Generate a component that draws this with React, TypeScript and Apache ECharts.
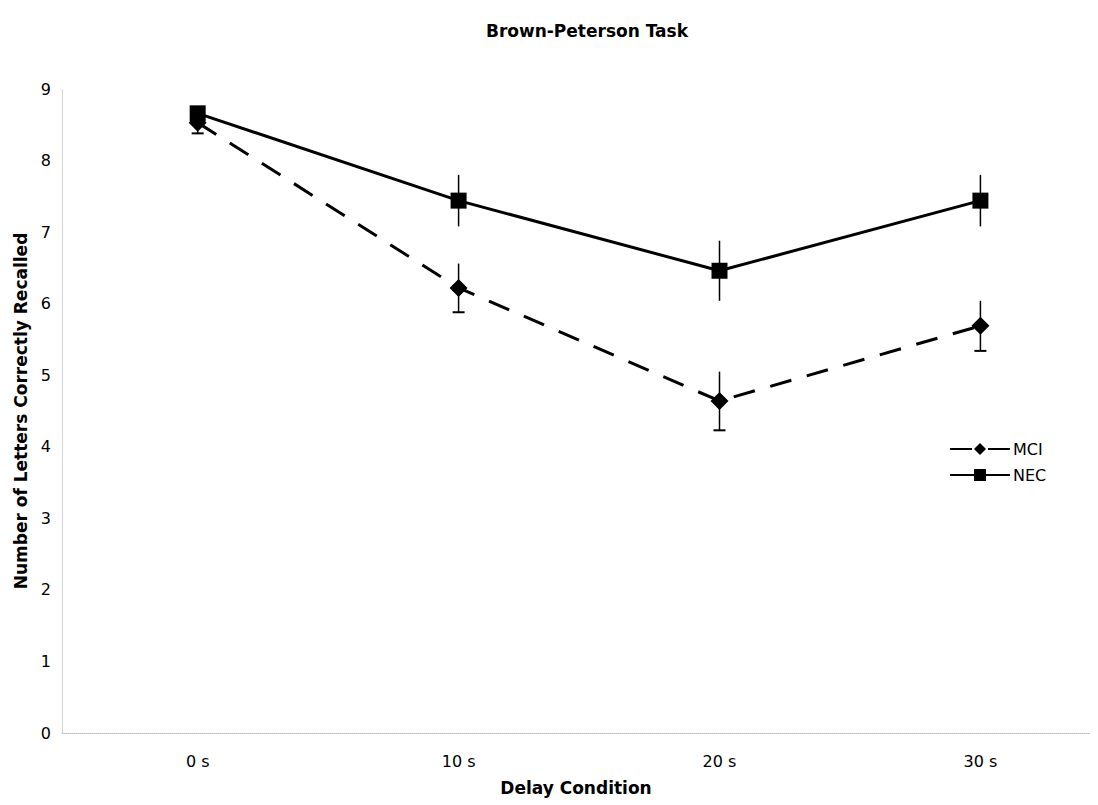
import React, { useEffect, useRef } from "react";
import * as echarts from "echarts";

const categories = ["0 s", "10 s", "20 s", "30 s"];
const mciMeans = [8.53, 6.22, 4.64, 5.69];
const mciErr = [0.15, 0.34, 0.41, 0.35];
const necMeans = [8.66, 7.44, 6.46, 7.44];
const necErr = [0.08, 0.36, 0.42, 0.36];
const yTicks = [0, 1, 2, 3, 4, 5, 6, 7, 8, 9];

const FONT = "DejaVu Sans";

export default function App() {
  const ref = useRef<HTMLDivElement>(null);
  useEffect(() => {
    if (!ref.current) return;
    const chart = echarts.init(ref.current, null, { renderer: "svg" });
    const xs = categories.map((_, i) => i);
    const mciData = xs.map((x, i) => [x, mciMeans[i]]);
    const necData = xs.map((x, i) => [x, necMeans[i]]);
    const mciBars = xs.map((x, i) => [x, mciMeans[i] - mciErr[i], mciMeans[i] + mciErr[i]]);
    const necBars = xs.map((x, i) => [x, necMeans[i] - necErr[i], necMeans[i] + necErr[i]]);

    const errRender = (lowCap: boolean) => (params: any, api: any) => {
      const x = api.value(0);
      const lo = api.coord([x, api.value(1)]);
      const hi = api.coord([x, api.value(2)]);
      const children: any[] = [
        {
          type: "line",
          shape: { x1: lo[0], y1: lo[1], x2: hi[0], y2: hi[1] },
          style: { stroke: "#000", lineWidth: 1.5 },
        },
      ];
      if (lowCap) {
        children.push({
          type: "line",
          shape: { x1: lo[0] - 6, y1: lo[1], x2: lo[0] + 6, y2: lo[1] },
          style: { stroke: "#000", lineWidth: 2 },
        });
      }
      return { type: "group", children };
    };

    chart.setOption({
      animation: false,
      backgroundColor: "#ffffff",
      title: {
        text: "Brown-Peterson Task",
        left: 582,
        textAlign: "center",
        top: 17,
        textStyle: { fontFamily: FONT, fontWeight: "bold", fontSize: 17, color: "#000" },
      },
      grid: { left: 62, right: 8, top: 89, bottom: 72 },
      legend: {
        orient: "vertical",
        left: 944,
        top: 436,
        itemWidth: 60,
        itemHeight: 15,
        itemGap: 10,
        textStyle: { fontFamily: FONT, fontSize: 16, color: "#000", padding: [0, 0, 0, -2] },
        data: ["MCI", "NEC"],
      },
      xAxis: {
        type: "value",
        min: -0.52,
        max: 3.42,
        name: "Delay Condition",
        nameLocation: "middle",
        nameGap: 46,
        nameTextStyle: { fontFamily: FONT, fontWeight: "bold", fontSize: 17, color: "#000" },
        splitLine: { show: false },
        axisTick: { show: false },
        axisLine: { show: true, lineStyle: { color: "#bbbbbb", width: 1, type: "dotted" } },
        axisLabel: {
          customValues: xs,
          formatter: (v: number) => categories[Math.round(v)] ?? "",
          fontFamily: FONT,
          fontSize: 16,
          color: "#000",
          margin: 20,
        },
      },
      yAxis: {
        type: "value",
        min: 0,
        max: 9,
        interval: 1,
        name: "Number of Letters Correctly Recalled",
        nameLocation: "middle",
        nameGap: 33,
        nameTextStyle: { fontFamily: FONT, fontWeight: "bold", fontSize: 17, color: "#000" },
        splitLine: { show: false },
        axisTick: { show: false },
        axisLine: { show: true, onZero: false, lineStyle: { color: "#cccccc", width: 1, type: "dotted" } },
        axisLabel: {
          formatter: (v: number) => (yTicks.includes(v) ? String(v) : ""),
          fontFamily: FONT,
          fontSize: 16,
          color: "#000",
          margin: 11,
        },
      },
      series: [
        {
          name: "MCI",
          type: "line",
          data: mciData,
          symbol: "diamond",
          symbolSize: 18,
          z: 3,
          itemStyle: { color: "#000" },
          lineStyle: { color: "#000", width: 3, type: [22, 16] },
        },
        {
          name: "NEC",
          type: "line",
          data: necData,
          symbol: "rect",
          symbolSize: 16,
          z: 3,
          itemStyle: { color: "#000" },
          lineStyle: { color: "#000", width: 3 },
        },
        {
          type: "custom",
          data: mciBars,
          renderItem: errRender(true),
          z: 2,
          encode: { x: 0, y: [1, 2] },
        },
        {
          type: "custom",
          data: necBars,
          renderItem: errRender(false),
          z: 2,
          encode: { x: 0, y: [1, 2] },
        },
      ],
    });
    return () => chart.dispose();
  }, []);
  return (
    <div
      ref={ref}
      style={{ position: "fixed", left: 0, top: 0, width: 1098, height: 805, background: "#fff" }}
    />
  );
}
